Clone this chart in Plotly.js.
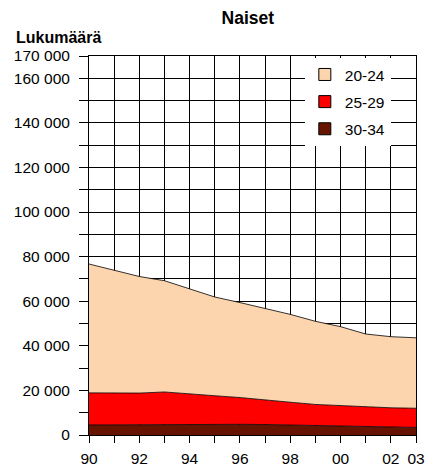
<!DOCTYPE html>
<html>
<head>
<meta charset="utf-8">
<script src="https://cdn.plot.ly/plotly-3.0.1.min.js"></script>
<style>html,body{margin:0;padding:0;background:#fff;}#chart{width:428px;height:468px;}</style>
</head>
<body>
<div id="chart"></div>
<script>
const years = [1990,1991,1992,1993,1994,1995,1996,1997,1998,1999,2000,2001,2002,2003];
const yearLabels = ['90','','92','','94','','96','','98','','00','','02','03'];
const age20_24 = [57800,55200,52300,49900,47100,44300,42600,40900,39400,37300,35400,32700,31900,31600];
const age25_29 = [14400,14200,14100,14500,13500,12800,12000,11200,10200,9400,9300,8900,8700,8600];
const age30_34 = [4500,4600,4700,4800,4800,4800,4800,4700,4500,4300,3900,3700,3500,3400];
const seriesNames = ['20-24','25-29','30-34'];
const seriesColors = ['#FCD5AE','#FF0000','#661400'];
const yTickVals = [0,10000,20000,30000,40000,50000,60000,70000,80000,90000,100000,110000,120000,130000,140000,150000,160000,170000];
const yTickText = ['0','','20 000','','40 000','','60 000','','80 000','','100 000','','120 000','','140 000','','160 000','170 000'];

const area = (name, y, color) => ({
  x: years, y: y, name: name, type: 'scatter', mode: 'lines',
  stackgroup: 'one', showlegend: false,
  line: {color: '#000', width: 0.8},
  fillcolor: color, hoverinfo: 'skip'
});
const legendItem = (name, color) => ({
  x: [null], y: [null], name: name, type: 'scatter', mode: 'markers',
  legendgroup: name, showlegend: true,
  marker: {symbol: 'square', size: 12, color: color, line: {color: '#000', width: 1}},
  hoverinfo: 'skip'
});
const data = [
  area(seriesNames[2], age30_34, seriesColors[2]),
  area(seriesNames[1], age25_29, seriesColors[1]),
  area(seriesNames[0], age20_24, seriesColors[0]),
  legendItem(seriesNames[0], seriesColors[0]),
  legendItem(seriesNames[1], seriesColors[1]),
  legendItem(seriesNames[2], seriesColors[2])
];
const layout = {
  width: 428, height: 468,
  margin: {l: 89, r: 12, t: 56, b: 33},
  paper_bgcolor: '#fff', plot_bgcolor: '#fff',
  font: {family: 'Liberation Sans, Arial, sans-serif', size: 15.5, color: '#000'},
  title: {text: '<b>Naiset</b>', x: 0.579, xanchor: 'center', y: 0.9615, yanchor: 'middle', font: {size: 17.5}},
  xaxis: {
    range: [1990, 2003], tickvals: years, ticktext: yearLabels,
    showgrid: true, gridcolor: '#000', gridwidth: 1,
    ticks: 'outside', ticklen: 7, tickcolor: '#000',
    ticklabelstandoff: 2,
    showline: true, linecolor: '#000', mirror: true, zeroline: false,
    tickfont: {size: 15.5}
  },
  yaxis: {
    range: [0, 170000], tickvals: yTickVals, ticktext: yTickText,
    showgrid: true, gridcolor: '#000', gridwidth: 1,
    ticks: 'outside', ticklen: 9, tickcolor: '#000',
    ticklabelstandoff: 6,
    showline: true, linecolor: '#000', mirror: true, zeroline: false,
    tickfont: {size: 15.5}
  },
  legend: {
    x: 0.66, y: 0.995, xanchor: 'left', yanchor: 'top',
    bgcolor: '#fff', borderwidth: 0,
    traceorder: 'grouped', tracegroupgap: 4,
    font: {size: 15.5}
  },
  annotations: [{
    text: '<b>Lukumäärä</b>', xref: 'paper', yref: 'paper',
    x: -0.229, y: 1.05, xanchor: 'left', yanchor: 'middle',
    showarrow: false, font: {size: 16}
  }],
  showlegend: true
};
Plotly.newPlot('chart', data, layout, {displayModeBar: false, staticPlot: true});
</script>
</body>
</html>
